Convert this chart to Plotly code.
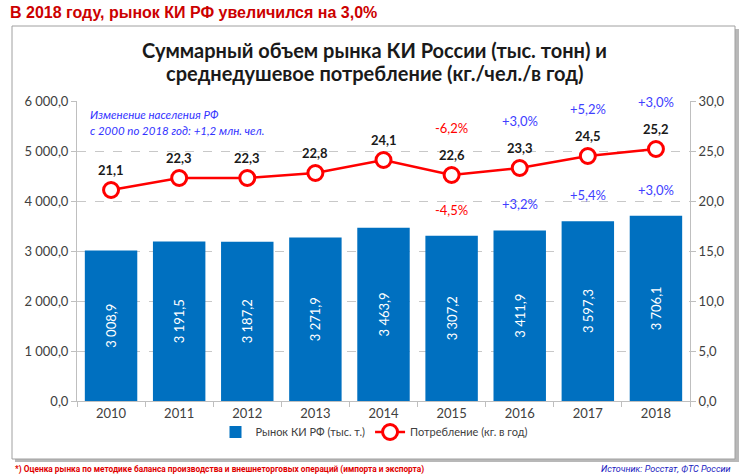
import plotly.graph_objects as go

years = [2010, 2011, 2012, 2013, 2014, 2015, 2016, 2017, 2018]
market = [3008.9, 3191.5, 3187.2, 3271.9, 3463.9, 3307.2, 3411.9, 3597.3, 3706.1]
consumption = [21.1, 22.3, 22.3, 22.8, 24.1, 22.6, 23.3, 24.5, 25.2]
market_change = [None, None, None, None, None, "-4,5%", "+3,2%", "+5,4%", "+3,0%"]
consumption_change = [None, None, None, None, None, "-6,2%", "+3,0%", "+5,2%", "+3,0%"]

headline = "В 2018 году, рынок КИ РФ увеличился на 3,0%"
title_lines = ["Суммарный объем рынка КИ России (тыс. тонн) и",
               "среднедушевое потребление (кг./чел./в год)"]
note_lines = ["Изменение населения РФ", "с 2000 по 2018 год: +1,2 млн. чел."]
footnote = "*) Оценка рынка по методике баланса производства и внешнеторговых операций (импорта и экспорта)"
source = "Источник: Росстат, ФТС России"

W, H = 750, 474
L, R, T, B = 77, 60, 101, 73
PW, PH = W - L - R, H - T - B


def px(x):
    return (x - L) / PW


def py(y):
    return (H - B - y) / PH


FONT = "Lato, Calibri, Carlito, sans-serif"
BLUE = "#0070C0"
RED = "#FF0000"
PBLUE = "#4040FF"

fig = go.Figure()
fig.add_trace(go.Bar(
    x=years, y=market, name="Рынок КИ РФ (тыс. т.)",
    marker=dict(color=BLUE, line=dict(width=0)),
    texttemplate="%{y:,.1f}", textposition="inside", insidetextanchor="middle",
    textangle=-90, textfont=dict(color="white", size=13, family=FONT),
))
fig.add_trace(go.Scatter(
    x=years, y=consumption, yaxis="y2", name="Потребление (кг. в год)",
    mode="lines+markers",
    line=dict(color=RED, width=2.5),
    marker=dict(symbol="circle", size=15, color="white", line=dict(color=RED, width=3)),
    cliponaxis=False,
))

ann = []
for yr, v in zip(years, consumption):
    ann.append(dict(x=yr, y=v, xref="x", yref="y2", yshift=20, showarrow=False,
                    text="<b>%s</b>" % f"{v:.1f}".replace(".", ","),
                    font=dict(size=13, color="#1A1A1A", family=FONT)))
for yr, v, c in zip(years, consumption, consumption_change):
    if c:
        ann.append(dict(x=yr, y=v, xref="x", yref="y2", yshift=47, showarrow=False, text=c,
                        font=dict(size=13, color=RED if c.startswith("-") else PBLUE, family=FONT)))
for yr, v, c in zip(years, market, market_change):
    if c:
        ann.append(dict(x=yr, y=v, xref="x", yref="y", yshift=26, showarrow=False, text=c,
                        font=dict(size=13, color=RED if c.startswith("-") else PBLUE, family=FONT)))

ann.append(dict(x=px(8), y=py(12), xref="paper", yref="paper", xanchor="left", yanchor="middle",
                showarrow=False, text="<b>%s</b>" % headline,
                font=dict(size=16, color="#CC0000", family="Liberation Sans, Arial, sans-serif")))
for i, line in enumerate(title_lines):
    ann.append(dict(x=px(374), y=py(50 + 23 * i), xref="paper", yref="paper", xanchor="center",
                    yanchor="middle", showarrow=False, text="<b>%s</b>" % line,
                    font=dict(size=20, color="#1A1A1A", family=FONT)))
for i, line in enumerate(note_lines):
    ann.append(dict(x=px(88), y=py(115 + 15 * i), xref="paper", yref="paper", xanchor="left",
                    yanchor="middle", showarrow=False, text="<i>%s</i>" % line,
                    font=dict(size=11.5, color="#3333FF", family=FONT)))
ann.append(dict(x=px(13), y=py(469), xref="paper", yref="paper", xanchor="left", yanchor="middle",
                showarrow=False, text="<b>%s</b>" % footnote,
                font=dict(size=8.3, color="#E00000", family="Liberation Sans Narrow, Roboto, sans-serif")))
ann.append(dict(x=px(733), y=py(469), xref="paper", yref="paper", xanchor="right", yanchor="middle",
                showarrow=False, text="<i>%s</i>" % source,
                font=dict(size=9, color="#2020C0", family="Liberation Sans Narrow, Roboto, sans-serif")))

shapes = [
    dict(type="rect", xref="paper", yref="paper", layer="below",
         x0=px(15), x1=px(739), y0=py(462), y1=py(29),
         fillcolor="#B8B8B8", line=dict(width=0)),
    dict(type="rect", xref="paper", yref="paper", layer="below",
         x0=px(12), x1=px(735), y0=py(459), y1=py(26),
         fillcolor="white", line=dict(color="#A0A0A0", width=1)),
]

fig.update_layout(
    width=W, height=H, margin=dict(l=L, r=R, t=T, b=B, pad=0),
    paper_bgcolor="white", plot_bgcolor="rgba(0,0,0,0)",
    separators=", ",
    font=dict(family=FONT, color="#404040", size=13),
    bargap=0.23,
    showlegend=True,
    legend=dict(orientation="h", x=px(374), xanchor="center", y=py(432), yanchor="middle",
                font=dict(size=11, color="#404040", family=FONT), bgcolor="rgba(0,0,0,0)",
                itemwidth=30, tracegroupgap=0),
    xaxis=dict(range=[years[0] - 0.5, years[-1] + 0.5], tickmode="linear", dtick=1,
               tickformat="d", showline=True, linecolor="#BFBFBF", linewidth=1,
               ticks="", showgrid=False, zeroline=False,
               minor=dict(ticks="outside", tick0=years[0] - 0.5, dtick=1, ticklen=5,
                          tickcolor="#BFBFBF", showgrid=False),
               tickfont=dict(size=13, color="#404040")),
    yaxis=dict(range=[0, 6000], dtick=1000, tickformat=",.1f", showline=True,
               linecolor="#BFBFBF", ticks="outside", ticklen=5, tickcolor="#BFBFBF",
               showgrid=True, gridcolor="#C8C8C8", griddash="dash", gridwidth=1,
               zeroline=False, tickfont=dict(size=13, color="#404040")),
    yaxis2=dict(range=[0, 30], dtick=5, tickformat=".1f", overlaying="y", side="right",
                showline=True, linecolor="#BFBFBF", ticks="outside", ticklen=5,
                tickcolor="#BFBFBF", showgrid=False, zeroline=False,
                tickfont=dict(size=13, color="#404040")),
    annotations=ann,
    shapes=shapes,
)

fig.write_html("out.html", config={"displayModeBar": False},
               post_script="document.body.style.margin='0';")
